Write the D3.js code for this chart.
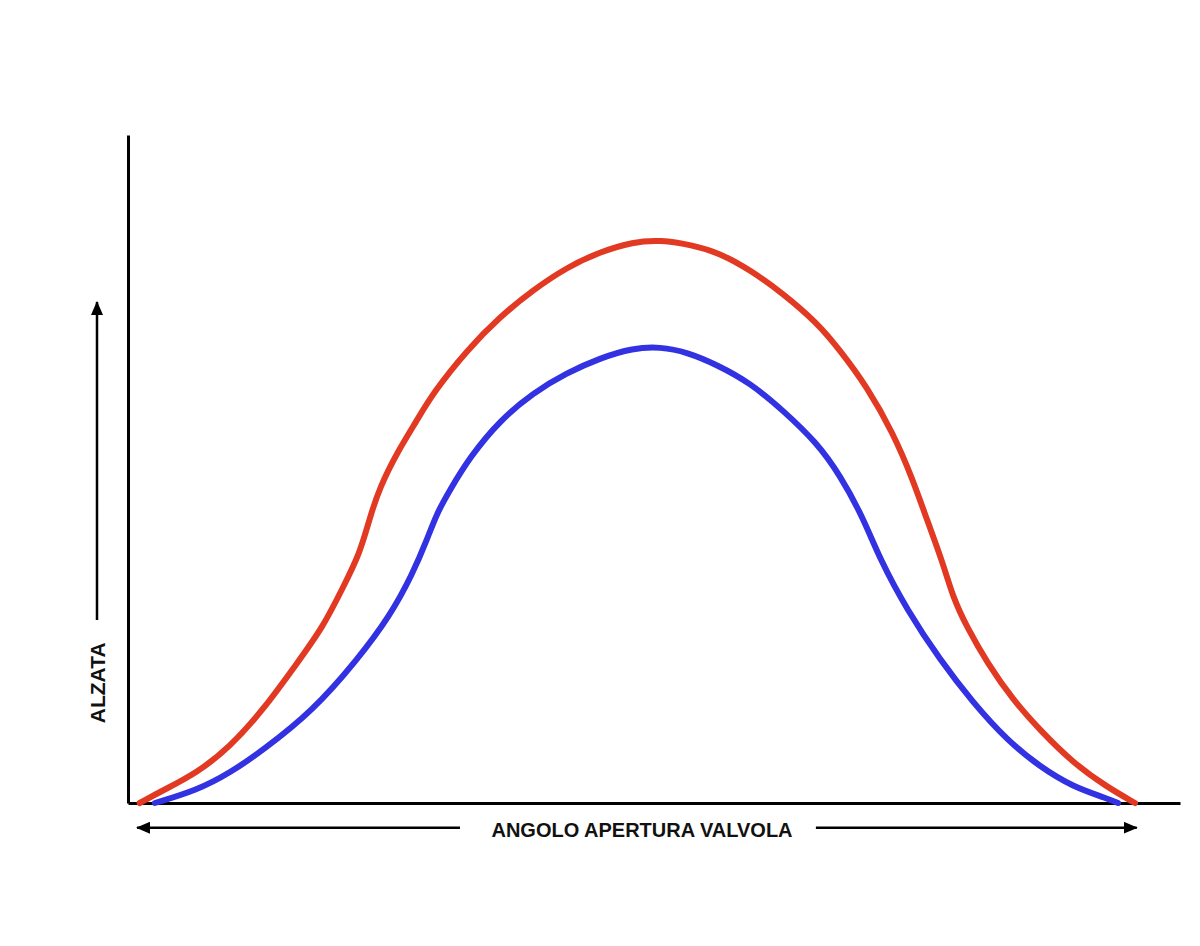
<!DOCTYPE html>
<html>
<head>
<meta charset="utf-8">
<script src="https://cdn.jsdelivr.net/npm/d3@7"></script>
<style>
  body { margin: 0; background: #ffffff; }
  text { font-family: "Liberation Sans", Arial, sans-serif; font-weight: bold; fill: #111; }
</style>
</head>
<body>
<div id="chart"></div>
<script>
// valve lift vs opening angle (arbitrary units)
const redAngle = [4, 12, 23.6, 34.9, 46.2, 57.8, 66.7, 73.6, 79.4, 82.8, 86.2, 92, 98.9, 104.4, 116, 127.3, 138.6, 150.2, 161.5, 172.8, 182.1, 193.3, 202.6, 212.9, 224.1, 235.8, 243.6, 252.9, 261.8, 268.6, 273.4, 278.9, 282.3, 287.1, 294, 302.9, 312.1, 323.4, 335, 344.6];
const redLift  = [0, 0.19, 0.45, 0.84, 1.39, 2.09, 2.63, 3.23, 3.74, 4.28, 4.73, 5.24, 5.73, 6.14, 6.78, 7.28, 7.68, 8.02, 8.25, 8.40, 8.43, 8.35, 8.23, 7.98, 7.63, 7.19, 6.78, 6.23, 5.54, 4.84, 4.24, 3.59, 3.08, 2.63, 2.10, 1.54, 1.09, 0.60, 0.24, 0];

const blueAngle = [9.2, 23.6, 34.9, 46.2, 63.3, 78.4, 89.7, 97.5, 102.3, 105.7, 110.2, 117, 127.3, 138.6, 150.2, 161.5, 172.8, 182.1, 191.3, 201.6, 212.9, 224.1, 235.8, 243.6, 251.5, 257.4, 266.6, 277.9, 289.2, 300.8, 312.1, 323.4, 335, 338.8];
const blueLift  = [0, 0.19, 0.45, 0.79, 1.38, 2.14, 2.80, 3.44, 3.94, 4.34, 4.69, 5.18, 5.73, 6.14, 6.44, 6.66, 6.81, 6.83, 6.75, 6.56, 6.29, 5.88, 5.39, 4.91, 4.28, 3.64, 2.89, 2.14, 1.50, 0.94, 0.54, 0.24, 0.07, 0];

const xLabel = "ANGOLO APERTURA VALVOLA";
const yLabel = "ALZATA";

const width = 1200;
const height = 946;
const margin = { top: 135, right: 20, bottom: 143, left: 128 };

const svg = d3.select('#chart')
    .append('svg')
    .attr('width', width)
    .attr('height', height);

const x = d3.scaleLinear()
    .domain([0, 360])
    .range([margin.left, width - margin.right]);

const y = d3.scaleLinear()
    .domain([0, 10])
    .range([height - margin.bottom, margin.top]);

// axes: only the domain lines, no ticks
svg.append('g')
    .attr('transform', `translate(0,${y(0)})`)
    .call(d3.axisBottom(x).ticks(0).tickSizeOuter(0))
    .call(g => g.select('.domain').attr('stroke', '#000').attr('stroke-width', 3));

svg.append('g')
    .attr('transform', `translate(${x(0)},0)`)
    .call(d3.axisLeft(y).ticks(0).tickSizeOuter(0))
    .call(g => g.select('.domain').attr('stroke', '#000').attr('stroke-width', 3));

const line = d3.line()
    .x(d => x(d[0]))
    .y(d => y(d[1]))
    .curve(d3.curveBasis);

svg.append('path')
    .datum(d3.zip(redAngle, redLift))
    .attr('fill', 'none')
    .attr('stroke', '#e23a22')
    .attr('stroke-width', 6)
    .attr('stroke-linecap', 'round')
    .attr('d', line);

svg.append('path')
    .datum(d3.zip(blueAngle, blueLift))
    .attr('fill', 'none')
    .attr('stroke', '#3232e2')
    .attr('stroke-width', 6)
    .attr('stroke-linecap', 'round')
    .attr('d', line);

// arrow head marker
svg.append('defs').append('marker')
    .attr('id', 'head')
    .attr('viewBox', '0 0 14 12')
    .attr('refX', 13)
    .attr('refY', 6)
    .attr('markerWidth', 14)
    .attr('markerHeight', 12)
    .attr('markerUnits', 'userSpaceOnUse')
    .attr('orient', 'auto')
    .append('path')
    .attr('d', 'M0,0 L14,6 L0,12 Z')
    .attr('fill', '#000');

const arrowY = y(-0.37);

// x label + arrows
svg.append('text')
    .attr('x', x(175.9))
    .attr('y', arrowY + 9)
    .attr('text-anchor', 'middle')
    .style('font-size', '20px')
    .text(xLabel);

svg.append('line')
    .attr('x1', x(113.6)).attr('y1', arrowY)
    .attr('x2', x(3.1)).attr('y2', arrowY)
    .attr('stroke', '#000').attr('stroke-width', 2.5)
    .attr('marker-end', 'url(#head)');

svg.append('line')
    .attr('x1', x(235.4)).attr('y1', arrowY)
    .attr('x2', x(345.2)).attr('y2', arrowY)
    .attr('stroke', '#000').attr('stroke-width', 2.5)
    .attr('marker-end', 'url(#head)');

// y label + arrow
const arrowX = 97;

svg.append('text')
    .attr('transform', `translate(${arrowX + 8},${y(1.8)}) rotate(-90)`)
    .attr('text-anchor', 'middle')
    .style('font-size', '21px')
    .text(yLabel);

svg.append('line')
    .attr('x1', arrowX).attr('y1', y(2.74))
    .attr('x2', arrowX).attr('y2', y(7.5))
    .attr('stroke', '#000').attr('stroke-width', 2.5)
    .attr('marker-end', 'url(#head)');
</script>
</body>
</html>
